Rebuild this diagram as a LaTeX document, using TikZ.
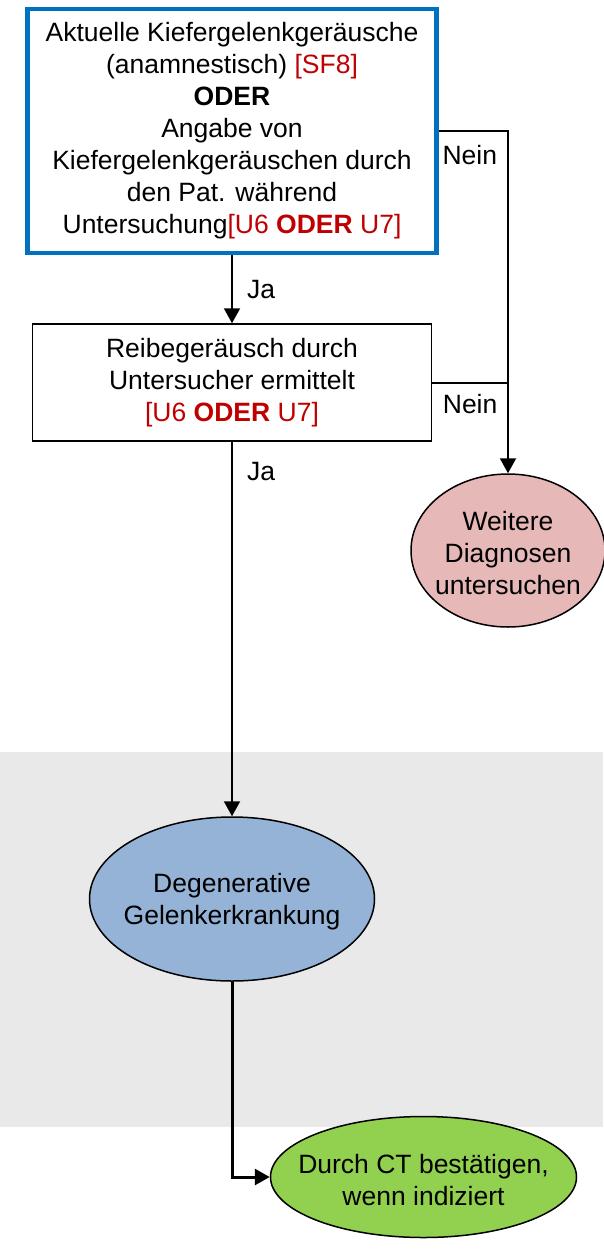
\documentclass[tikz,border=0pt]{standalone}
\usepackage{fontspec}
\setmainfont{Liberation Sans}
\usetikzlibrary{shapes.geometric,arrows.meta,positioning}
\definecolor{blauRand}{RGB}{0,112,192}
\definecolor{rotText}{RGB}{192,0,0}
\definecolor{rosaFill}{RGB}{230,185,184}
\definecolor{blauFill}{RGB}{149,179,215}
\definecolor{gruenFill}{RGB}{146,208,80}
\definecolor{grauBand}{RGB}{233,233,233}
\newcommand{\rot}[1]{\textcolor{rotText}{#1}}

\begin{document}
\begin{tikzpicture}[x=1pt, y=-1pt, node distance=250pt, auto,
	    font=\fontsize{26.5}{32}\selectfont,
	    block/.style={rectangle, draw=black, line width=1.5pt, fill=white, align=center, inner sep=0pt},
	    ellip/.style={ellipse, draw=black, line width=1.5pt, inner sep=0pt},
	    txt/.style={align=center, inner sep=0pt},
	    etxt/.style={txt, yshift=-3pt},
	    line/.style={draw=black, line width=2pt, -{Triangle[length=15pt, width=16pt]}}]

	    \useasboundingbox (0,0) rectangle (603,1250);
	    \fill [grauBand] (0,752) rectangle (603,1127);

	    \node [block, draw=blauRand, line width=4.5pt, minimum width=409pt, minimum height=244pt] (frage1) at (232,131) {Aktuelle Kiefergelenkgeräusche\\(anamnestisch) \rot{[SF8]}\\\textbf{ODER}\\Angabe von\\Kiefergelenkgeräuschen durch\\den Pat. während\\Untersuchung\rot{[U6 \textbf{ODER} U7]}};
	    \node [block, below of=frage1, node distance=251.5pt, minimum width=399pt, minimum height=117pt] (frage2) {Reibegeräusch durch\\Untersucher ermittelt\\\rot{[U6 \textbf{ODER} U7]}};
	    \node [ellip, fill=rosaFill, minimum width=194pt, minimum height=153pt, label={[etxt]center:{Weitere\\Diagnosen\\untersuchen}}] (weitere) at (508,550.5) {};
	    \node [ellip, fill=blauFill, below of=frage2, node distance=516.5pt, minimum width=285pt, minimum height=164pt, label={[etxt]center:{Degenerative\\Gelenkerkrankung}}] (dgk) {};
	    \node [ellip, fill=gruenFill, minimum width=306pt, minimum height=121pt, label={[etxt]center:{Durch CT bestätigen,\\wenn indiziert}}] (ct) at (423.5,1177) {};

	    \path [line] (frage1) -- node [txt, right=14pt] {Ja} (frage2);
	    \path [line] (frage1.east) -| node [txt, pos=0.535, left=10pt] {Nein} (weitere);
	    \draw [line width=2pt] (frage2.east) -- node [txt, below=11pt] {Nein} (frage2.east -| weitere.north);
	    \path [line] (frage2) -- node [txt, pos=0.08, right=14pt] {Ja} (dgk);
	    \path [line, line width=3pt] (dgk) |- (ct);
	\end{tikzpicture}
\end{document}
